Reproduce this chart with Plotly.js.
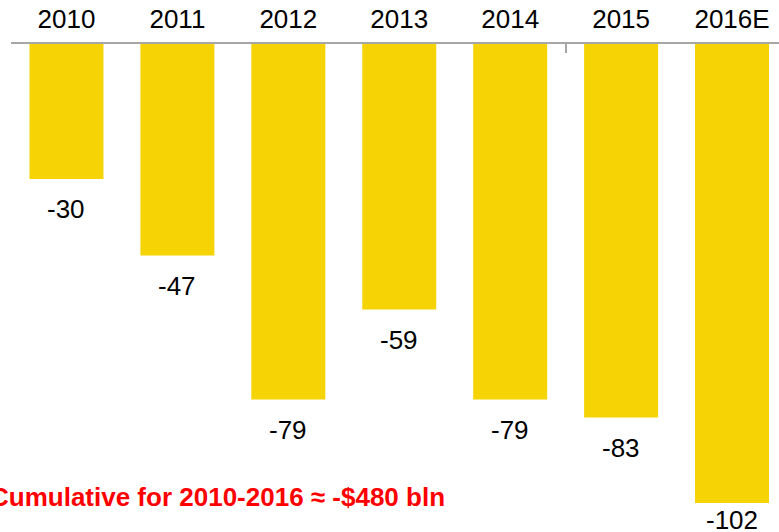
<!DOCTYPE html>
<html>
<head>
<meta charset="utf-8">
<script src="https://cdn.plot.ly/plotly-3.0.1.min.js"></script>
<style>html,body{margin:0;padding:0;background:#fff;}#chart{width:779px;height:532px;}</style>
</head>
<body>
<div id="chart"></div>
<script>
var years = ["2010", "2011", "2012", "2013", "2014", "2015", "2016E"];
var deficits = [-30, -47, -79, -59, -79, -83, -102];
var noteText = "Cumulative for 2010-2016 \u2248 -$480 bln";

var W = 779, H = 532, marginL = 10.5, marginT = 44;
var plotH = H - marginT;
var pxPerUnit = 4.5;
var yMin = -plotH / pxPerUnit;
var catW = 111;
var xMax = -0.5 + (W - marginL) / catW;

var barColor = "#F5D304";
var font = "Arial, 'Liberation Sans', sans-serif";

var annotations = deficits.map(function (v, i) {
  var barPx = marginT + pxPerUnit * Math.abs(v);
  var labelPx = Math.min(barPx + 30, H - 12);
  return {
    x: i, y: v, xref: "x", yref: "y",
    text: String(v), showarrow: false,
    yanchor: "middle", yshift: -(labelPx - barPx),
    font: {family: font, size: 26, color: "#000"}
  };
});
annotations.push({
  xref: "paper", yref: "paper",
  x: (447 - marginL) / (W - marginL), y: (H - 497) / plotH,
  xanchor: "right", yanchor: "middle", showarrow: false,
  text: "<b>" + noteText + "</b>",
  font: {family: font, size: 26, color: "#FF0000"}
});

var data = [
  {type: "bar", x: years, y: deficits, marker: {color: barColor},
   hoverinfo: "x+y"},
  {type: "scatter", x: [0], y: [0], xaxis: "x2", yaxis: "y",
   mode: "markers", marker: {opacity: 0}, hoverinfo: "skip", showlegend: false}
];

var layout = {
  width: W, height: H,
  margin: {l: marginL, r: 0, t: marginT, b: 0, pad: 0},
  paper_bgcolor: "#fff", plot_bgcolor: "#fff",
  showlegend: false,
  bargap: 0.333,
  xaxis: {
    type: "category", side: "top", range: [-0.5, xMax],
    showline: true, linecolor: "#A6A6A6", linewidth: 2,
    ticks: "", showgrid: false, zeroline: false,
    tickfont: {family: font, size: 26, color: "#000"},
    ticklabelstandoff: 4
  },
  xaxis2: {
    overlaying: "x", side: "top", range: [-0.5, xMax],
    tickmode: "array", tickvals: [-0.5, 4.5], showticklabels: false,
    ticks: "inside", ticklen: 9, tickwidth: 2, tickcolor: "#A6A6A6",
    showline: false, showgrid: false, zeroline: false
  },
  yaxis: {
    range: [yMin, 0], visible: false, showgrid: false, zeroline: false
  },
  annotations: annotations
};

Plotly.newPlot("chart", data, layout, {displayModeBar: false, staticPlot: true});
</script>
</body>
</html>
